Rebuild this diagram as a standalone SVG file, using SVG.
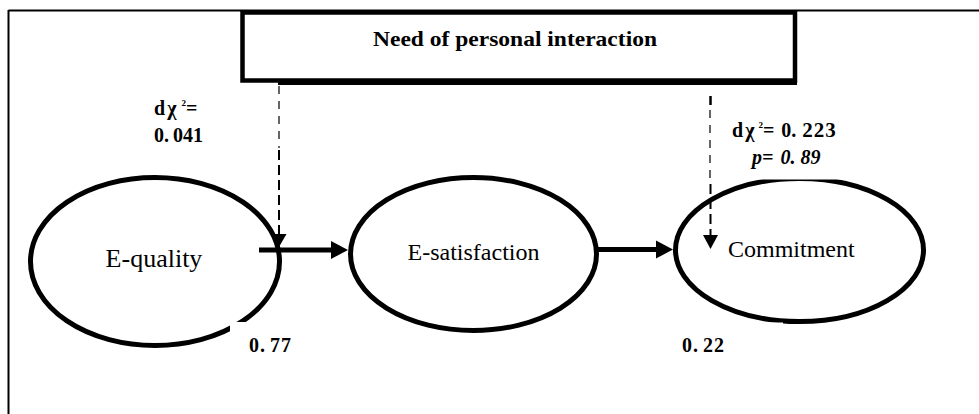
<svg xmlns="http://www.w3.org/2000/svg" width="979" height="414" viewBox="0 0 979 414" font-family="Liberation Serif, Times New Roman, serif">
<style>
.frame{fill:none;stroke:#000;stroke-width:2}
.node{fill:#fff;stroke:#000;stroke-width:5}
.box{fill:#fff;stroke:#000;stroke-width:4.5}
.mask{fill:#fff;stroke:none}
text{font-family:'Liberation Serif','Times New Roman',serif;fill:#000}
.nlab{font-size:24px}
.num{font-size:20px;font-weight:bold}
.solid{stroke:#000;stroke-width:5;fill:none}
.dthin{stroke:#000;stroke-width:1.2;stroke-dasharray:8 7;fill:none}
.dthick{stroke:#000;stroke-width:2;stroke-dasharray:10 5;fill:none}
.head{fill:#000;stroke:none}
</style>
<rect x="0" y="0" width="979" height="414" fill="#fff"/>
<g id="frame">
  <line class="frame" x1="8.5" y1="10.5" x2="979" y2="10.5"/>
  <line class="frame" x1="8.5" y1="10" x2="8.5" y2="414"/>
</g>
<g id="moderator">
  <rect class="box" x="242.5" y="12.5" width="552.5" height="68"/>
  <line x1="278" y1="83.5" x2="797" y2="83.5" stroke="#000" stroke-width="3"/>
  <text x="373" y="46" font-size="21" font-weight="bold" textLength="284" lengthAdjust="spacingAndGlyphs">Need of personal interaction</text>
</g>
<g id="e-quality">
  <ellipse class="node" cx="155" cy="261.5" rx="124.5" ry="84"/>
  <rect class="mask" x="230" y="322" width="70" height="36"/>
  <text x="154" y="267" font-size="26" text-anchor="middle">E-quality</text>
</g>
<g id="e-satisfaction">
  <ellipse class="node" cx="473.5" cy="254" rx="123" ry="76.5"/>
  <text class="nlab" x="473.5" y="260" text-anchor="middle">E-satisfaction</text>
</g>
<g id="commitment">
  <ellipse class="node" cx="799.5" cy="250" rx="124" ry="71.5"/>
  <rect class="mask" x="712" y="150" width="130" height="29.5"/>
  <rect class="mask" x="672" y="322.5" width="111" height="36"/>
  <text class="nlab" x="728" y="257">Commitment</text>
</g>
<g id="connectors">
  <line class="solid" x1="259" y1="250" x2="333" y2="250"/>
  <polygon class="head" points="331,241 348,250 331,259"/>
  <line class="solid" x1="598" y1="249.5" x2="658" y2="249.5"/>
  <polygon class="head" points="656,240.5 673,249.5 656,258.5"/>
  <line class="dthin" x1="279" y1="86" x2="279" y2="148"/>
  <line class="dthick" x1="279" y1="150" x2="279" y2="236"/>
  <polygon class="head" points="271.5,234 286.5,234 279,247"/>
  <line x1="710.5" y1="96" x2="710.5" y2="105" stroke="#000" stroke-width="2.5"/>
  <line class="dthin" x1="710" y1="110" x2="710" y2="180"/>
  <line class="dthick" x1="710.5" y1="184" x2="710.5" y2="237"/>
  <polygon class="head" points="703,235 718,235 710.5,249"/>
</g>
<g id="labels">
  <text class="num" x="154" y="115">d<tspan dx="2">χ</tspan><tspan dx="5" font-size="15" dy="-5">²</tspan><tspan dy="5">=</tspan></text>
  <text class="num" x="154" y="142">0.<tspan dx="4">041</tspan></text>
  <text class="num" x="732" y="137">d<tspan dx="2">χ</tspan><tspan dx="4" font-size="15" dy="-5">²</tspan><tspan dy="5">=</tspan><tspan dx="7">0.</tspan><tspan dx="6" font-size="21" letter-spacing="1">223</tspan></text>
  <text class="num" x="752" y="164" font-style="italic" font-size="20">p=<tspan dx="7">0.</tspan><tspan dx="5">89</tspan></text>
  <text class="num" x="249" y="352" letter-spacing="1">0.<tspan dx="4">77</tspan></text>
  <text class="num" x="682" y="352" letter-spacing="1">0.<tspan dx="4">22</tspan></text>
</g>
</svg>
